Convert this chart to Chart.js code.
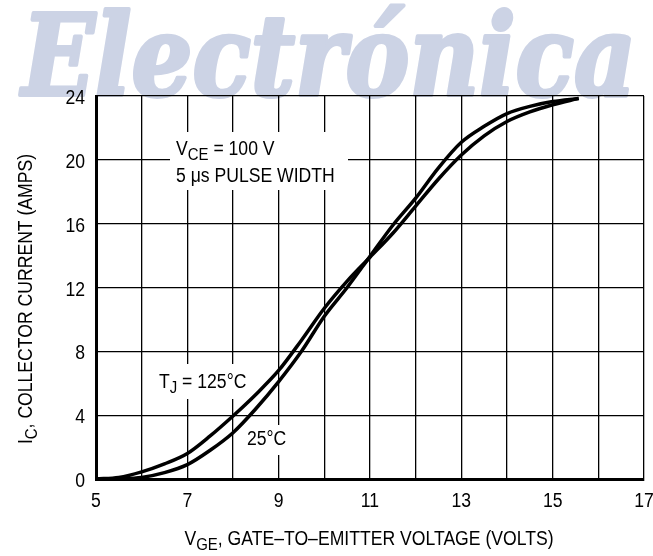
<!DOCTYPE html>
<html>
<head>
<meta charset="utf-8">
<script src="https://cdn.jsdelivr.net/npm/chart.js@4.4.1/dist/chart.umd.min.js"></script>
<style>
  html, body { margin: 0; padding: 0; background: #fff; }
  #wrap { width: 653px; height: 556px; }
</style>
</head>
<body>
<div id="wrap"><canvas id="chart" width="653" height="556"></canvas></div>
<script>
// gate-emitter voltage (V) sample points
const vge = [5, 5.5, 6, 6.5, 7, 7.5, 8, 8.5, 9, 9.5, 10, 10.5, 11, 11.5, 12, 12.5, 13, 13.5, 14, 14.5, 15, 15.57];
// collector current (A) at Tj = 25 C
const ic25 = [0, 0.02, 0.1, 0.4, 0.9, 1.8, 2.9, 4.4, 6.1, 8.0, 10.2, 12.0, 13.95, 15.9, 17.6, 19.5, 21.1, 22.1, 22.9, 23.35, 23.65, 23.85];
// collector current (A) at Tj = 125 C
const ic125 = [0, 0.1, 0.45, 0.95, 1.6, 2.7, 3.95, 5.3, 6.8, 8.7, 10.7, 12.4, 13.9, 15.4, 17.1, 18.8, 20.3, 21.5, 22.4, 23.0, 23.45, 23.85];

const xTicks = [5, 7, 9, 11, 13, 15, 17];
const yTicks = [0, 4, 8, 12, 16, 20, 24];

const FONT = "'Liberation Sans', Arial, sans-serif";
const NARROW = 0.88; // the original lettering is a condensed face

function pts(xs, ys) {
  return xs.map((x, i) => ({ x: x, y: ys[i] }));
}

// draw condensed text made of pieces, some of them subscripts
function drawRich(ctx, parts, x, y, size, align) {
  ctx.save();
  let total = 0;
  parts.forEach(p => {
    ctx.font = (p.sub ? size * 0.85 : size) + 'px ' + FONT;
    p.w = ctx.measureText(p.t).width;
    total += p.w;
  });
  ctx.translate(x, y);
  ctx.scale(NARROW, 1);
  ctx.textAlign = 'left';
  ctx.textBaseline = 'alphabetic';
  let cx = align === 'center' ? -total / 2 : align === 'right' ? -total : 0;
  parts.forEach(p => {
    ctx.font = (p.sub ? size * 0.85 : size) + 'px ' + FONT;
    ctx.fillText(p.t, cx, p.sub ? 5 : 0);
    cx += p.w;
  });
  ctx.restore();
}

const watermark = {
  id: 'watermark',
  beforeDraw(chart) {
    const ctx = chart.ctx;
    ctx.save();
    ctx.font = 'italic bold 112px "DejaVu Serif", serif';
    const w = ctx.measureText('Electrónica').width;
    ctx.translate(22, 95);
    ctx.scale(614 / w, 1);
    ctx.fillStyle = 'rgb(204,211,229)';
    ctx.strokeStyle = 'rgb(204,211,229)';
    ctx.lineWidth = 4;
    ctx.lineJoin = 'round';
    ctx.textBaseline = 'alphabetic';
    ctx.strokeText('Electrónica', 0, 0);
    ctx.fillText('Electrónica', 0, 0);
    ctx.restore();
  }
};

const notes = {
  id: 'notes',
  beforeDatasetsDraw(chart) {
    const ctx = chart.ctx;
    ctx.save();
    ctx.fillStyle = '#fff';
    ctx.fillRect(170, 132, 178, 58);
    ctx.fillRect(152, 364, 98, 35);
    ctx.fillRect(240, 425, 52, 30);
    ctx.restore();
  },
  afterDraw(chart) {
    const ctx = chart.ctx;
    const sx = chart.scales.x, sy = chart.scales.y;
    ctx.save();
    ctx.fillStyle = '#000';
    // tick labels
    xTicks.forEach(v => drawRich(ctx, [{ t: String(v) }], sx.getPixelForValue(v), 507, 20, 'center'));
    yTicks.forEach(v => drawRich(ctx, [{ t: String(v) }], 85, sy.getPixelForValue(v) + 8, 20, 'right'));
    // notes inside the plot
    drawRich(ctx, [{ t: 'V' }, { t: 'CE', sub: true }, { t: ' = 100 V' }], 176, 155, 20, 'left');
    drawRich(ctx, [{ t: '5 \u03bcs PULSE WIDTH' }], 176, 182, 20, 'left');
    drawRich(ctx, [{ t: 'T' }, { t: 'J', sub: true }, { t: ' = 125\u00b0C' }], 159, 388, 20, 'left');
    drawRich(ctx, [{ t: '25\u00b0C' }], 247, 445, 20, 'left');
    // axis titles
    drawRich(ctx, [{ t: 'V' }, { t: 'GE', sub: true }, { t: ', GATE\u2013TO\u2013EMITTER VOLTAGE (VOLTS)' }], 369, 545, 20, 'center');
    ctx.translate(32, 299);
    ctx.rotate(-Math.PI / 2);
    drawRich(ctx, [{ t: 'I' }, { t: 'C', sub: true }, { t: ', COLLECTOR CURRENT (AMPS)' }], 0, 0, 20, 'center');
    ctx.restore();
  }
};

new Chart(document.getElementById('chart'), {
  type: 'scatter',
  data: {
    datasets: [
      { label: '25 C', data: pts(vge, ic25) },
      { label: '125 C', data: pts(vge, ic125) }
    ]
  },
  options: {
    responsive: false,
    animation: false,
    layout: { padding: { left: 0, top: 96, right: 9, bottom: 0 } },
    elements: {
      point: { radius: 0 },
      line: { borderColor: '#000', borderWidth: 3.5, cubicInterpolationMode: 'monotone', fill: false }
    },
    datasets: { scatter: { showLine: true } },
    plugins: { legend: { display: false }, tooltip: { enabled: false } },
    scales: {
      x: {
        type: 'linear',
        min: xTicks[0],
        max: xTicks[xTicks.length - 1],
        afterFit(s) { s.height = 77; },
        ticks: { stepSize: 1, display: false },
        grid: { color: '#000', lineWidth: 1.3, drawTicks: false },
        border: { color: '#000', width: 3 }
      },
      y: {
        type: 'linear',
        min: yTicks[0],
        max: yTicks[yTicks.length - 1],
        afterFit(s) { s.width = 96; },
        ticks: { stepSize: 4, display: false },
        grid: { color: '#000', lineWidth: 1.3, drawTicks: false },
        border: { color: '#000', width: 3 }
      }
    }
  },
  plugins: [watermark, notes]
});
</script>
</body>
</html>
